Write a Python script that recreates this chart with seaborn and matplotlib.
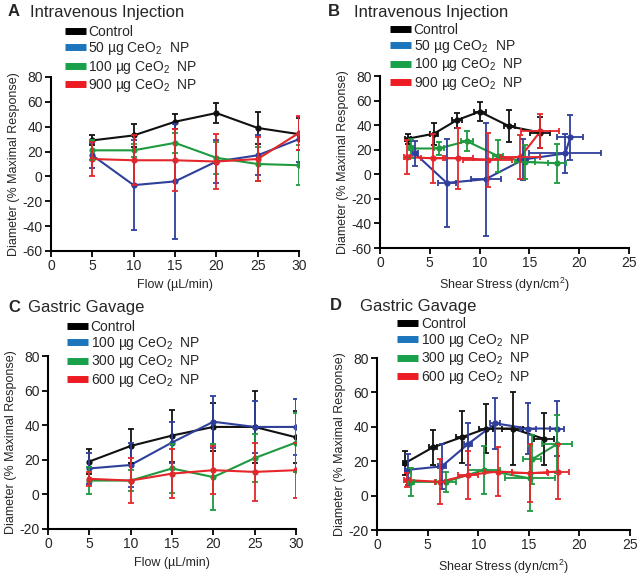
import numpy as np
import pandas as pd
import matplotlib
matplotlib.use('Agg')
import matplotlib.pyplot as plt
import seaborn as sns
from matplotlib.lines import Line2D

sns.set_style('ticks')
plt.rcParams['font.family'] = ['Liberation Sans', 'DejaVu Sans']
plt.rcParams['mathtext.fontset'] = 'custom'
plt.rcParams['mathtext.rm'] = 'Liberation Sans'
plt.rcParams['mathtext.it'] = 'Liberation Sans:italic'
plt.rcParams['axes.unicode_minus'] = False

flow = [5, 10, 15, 20, 25, 30]

# Intravenous injection (panels A, B)
iv_labels = ['Control', '50 µg CeO$_2$  NP', '100 µg CeO$_2$  NP', '900 µg CeO$_2$  NP']
iv_ctrl = [29, 33, 44, 51, 39, 34]
iv_ctrl_sd = [4, 9, 6, 8, 13, 13]
iv_50 = [17, -7, -4, 12, 17, 30]
iv_50_sd = [10, 36, 46, 17, 16, 18]
iv_100 = [21, 21, 27, 15, 10, 9]
iv_100_sd = [8, 5, 8, 13, 14, 16]
iv_900 = [14, 13, 13, 12, 14, 35]
iv_900_sd = [14, 20, 25, 22, 18, 14]

iv_ctrl_ss = [2.8, 5.4, 7.7, 10.0, 13.0, 16.1]
iv_ctrl_ss_sd = [0.3, 0.4, 0.5, 0.6, 0.6, 1.0]
iv_50_ss = [3.5, 6.7, 10.6, 14.4, 18.6, 19.1]
iv_50_ss_sd = [0.3, 0.9, 1.5, 0.5, 3.6, 1.3]
iv_100_ss = [3.1, 5.9, 8.7, 11.8, 14.6, 17.8]
iv_100_ss_sd = [0.2, 0.5, 0.6, 0.5, 1.0, 0.9]
iv_900_ss = [2.7, 5.3, 7.8, 10.8, 14.1, 16.1]
iv_900_ss_sd = [0.3, 1.2, 1.5, 2.5, 2.0, 1.9]

# Gastric gavage (panels C, D)
gg_labels = ['Control', '100 µg CeO$_2$  NP', '300 µg CeO$_2$  NP', '600 µg CeO$_2$  NP']
gg_ctrl = [19, 28, 34, 39, 39, 33]
gg_ctrl_sd = [7, 10, 15, 14, 21, 15]
gg_100 = [15, 17, 30, 42, 39, 39]
gg_100_sd = [9, 13, 12, 15, 15, 16]
gg_300 = [8, 8, 15, 10, 21, 30]
gg_300_sd = [8, 6, 14, 19, 14, 17]
gg_600 = [9, 8, 12, 14, 13, 14]
gg_600_sd = [4, 13, 14, 14, 17, 16]

gg_ctrl_ss = [2.8, 5.5, 8.4, 10.8, 13.4, 16.5]
gg_ctrl_ss_sd = [0.2, 0.4, 0.6, 0.7, 1.0, 1.0]
gg_100_ss = [3.1, 6.4, 9.0, 11.7, 14.9, 17.8]
gg_100_ss_sd = [0.3, 0.4, 0.4, 0.5, 0.8, 0.7]
gg_300_ss = [3.4, 6.8, 10.6, 15.1, 15.3, 17.8]
gg_300_ss_sd = [0.3, 1.0, 1.6, 2.5, 0.9, 1.5]
gg_600_ss = [3.0, 6.2, 9.0, 12.0, 15.1, 17.9]
gg_600_ss_sd = [0.3, 0.5, 1.0, 1.3, 1.8, 1.1]

line_colors = ['#111111', '#2f3f9c', '#1f9a3f', '#e5262b']
legend_colors = ['#000000', '#1b75bc', '#19a04a', '#ed1c24']


def panel(ax, labels, means, sds, xs, xsds, xlim, ylim, yticks, xlabel, leg_xy):
    rows = []
    for lab, m, x in zip(labels, means, xs):
        for xi, mi in zip(x, m):
            rows.append({'x': xi, 'y': mi, 'group': lab})
    df = pd.DataFrame(rows)
    sns.lineplot(data=df, x='x', y='y', hue='group', palette=line_colors,
                 sort=False, marker='o', markersize=4.5, markeredgewidth=0,
                 linewidth=1.5, legend=False, ax=ax)
    for i, (m, s, x) in enumerate(zip(means, sds, xs)):
        ax.errorbar(x, m, yerr=s, xerr=xsds[i] if xsds is not None else None,
                    fmt='none', ecolor=line_colors[i], elinewidth=1.3,
                    capsize=2.5, capthick=1.3)
    ax.set_xlim(*xlim)
    ax.set_ylim(*ylim)
    ax.set_yticks(yticks)
    ax.set_xticks(np.arange(xlim[0], xlim[1] + 1, 5))
    ax.tick_params(labelsize=10, width=1.3, length=4, color='black', pad=2)
    ax.set_xlabel(xlabel, fontsize=9)
    ax.set_ylabel('Diameter (% Maximal Response)', fontsize=9, labelpad=2)
    for sp in ['left', 'bottom']:
        ax.spines[sp].set_linewidth(1.5)
        ax.spines[sp].set_color('black')
    sns.despine(ax=ax)
    handles = [Line2D([], [], color=c, linewidth=5, solid_capstyle='butt') for c in legend_colors]
    ax.legend(handles, labels, loc='upper left', bbox_to_anchor=leg_xy,
              frameon=False, fontsize=10, handlelength=1.5, handletextpad=0.2,
              labelspacing=0.1, borderpad=0, borderaxespad=0)


fig = plt.figure(figsize=(6.4, 5.78), dpi=100)
W, H = 640, 578


def add_axes(left, top, right, bottom):
    return fig.add_axes([left / W, 1 - bottom / H, (right - left) / W, (bottom - top) / H])


axA = add_axes(51, 77, 299, 251)
axB = add_axes(380, 76, 629, 248)
axC = add_axes(48, 356, 296, 529)
axD = add_axes(377, 358, 630, 530)

panel(axA, iv_labels, [iv_ctrl, iv_50, iv_100, iv_900],
      [iv_ctrl_sd, iv_50_sd, iv_100_sd, iv_900_sd], [flow] * 4, None,
      (0, 30), (-60, 80), np.arange(-60, 81, 20), 'Flow (µL/min)', (0.056, 1.30))
panel(axB, iv_labels, [iv_ctrl, iv_50, iv_100, iv_900],
      [iv_ctrl_sd, iv_50_sd, iv_100_sd, iv_900_sd],
      [iv_ctrl_ss, iv_50_ss, iv_100_ss, iv_900_ss],
      [iv_ctrl_ss_sd, iv_50_ss_sd, iv_100_ss_sd, iv_900_ss_sd],
      (0, 25), (-60, 80), np.arange(-60, 81, 20), 'Shear Stress (dyn/cm$^2$)', (0.04, 1.31))
panel(axC, gg_labels, [gg_ctrl, gg_100, gg_300, gg_600],
      [gg_ctrl_sd, gg_100_sd, gg_300_sd, gg_600_sd], [flow] * 4, None,
      (0, 30), (-20, 80), np.arange(-20, 81, 20), 'Flow (µL/min)', (0.077, 1.21))
panel(axD, gg_labels, [gg_ctrl, gg_100, gg_300, gg_600],
      [gg_ctrl_sd, gg_100_sd, gg_300_sd, gg_600_sd],
      [gg_ctrl_ss, gg_100_ss, gg_300_ss, gg_600_ss],
      [gg_ctrl_ss_sd, gg_100_ss_sd, gg_300_ss_sd, gg_600_ss_sd],
      (0, 25), (-20, 80), np.arange(-20, 81, 20), 'Shear Stress (dyn/cm$^2$)', (0.08, 1.24))

for letter, lx, title, tx, ty in [('A', 8, 'Intravenous Injection', 30, 12),
                                  ('B', 328, 'Intravenous Injection', 354, 12),
                                  ('C', 8, 'Gastric Gavage', 28, 308),
                                  ('D', 330, 'Gastric Gavage', 360, 306)]:
    fig.text(lx / W, 1 - ty / H, letter, fontsize=12, fontweight='bold', va='center')
    fig.text(tx / W, 1 - ty / H, title, fontsize=12, va='center')

fig.savefig('out.png', dpi=100)
